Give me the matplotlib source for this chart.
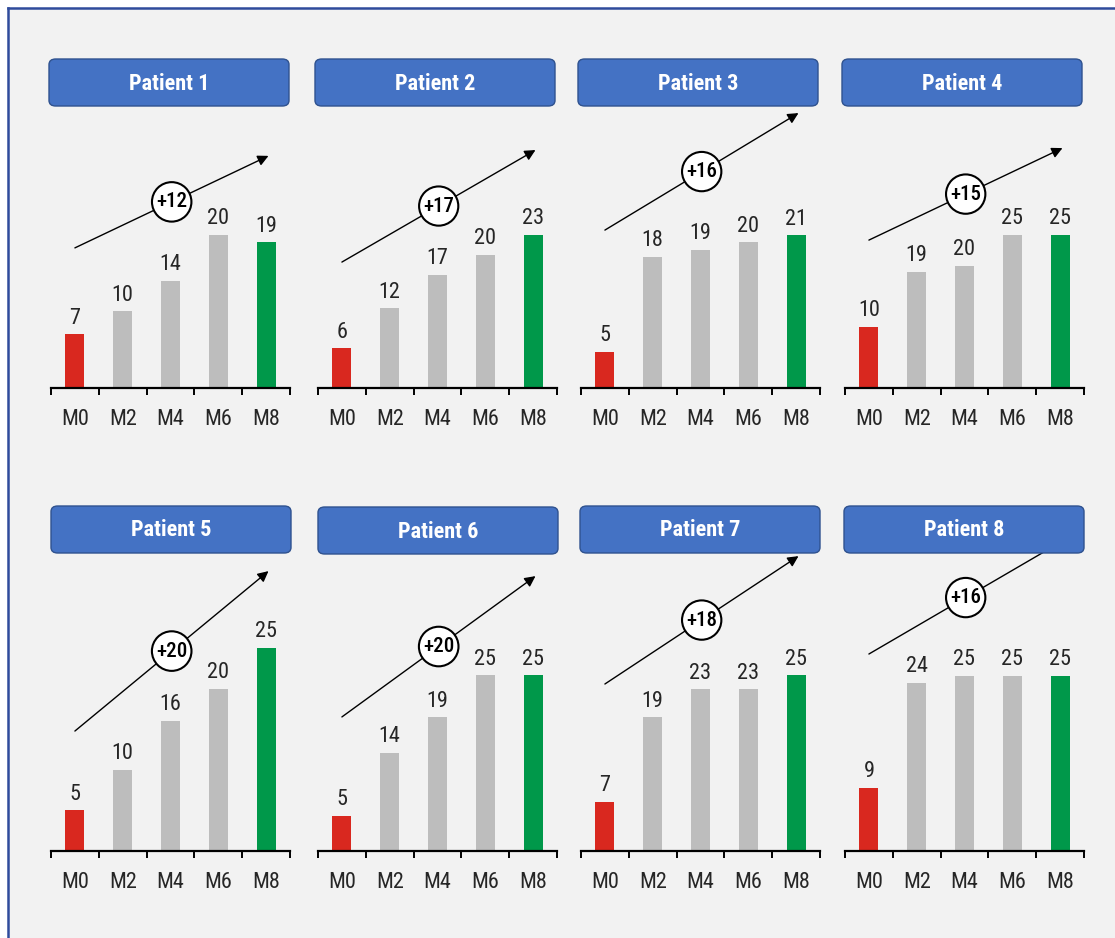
import matplotlib
matplotlib.use("Agg")
import matplotlib.pyplot as plt
from matplotlib.patches import FancyBboxPatch
from matplotlib.lines import Line2D

# ---- data -------------------------------------------------------------
months = ["M0", "M2", "M4", "M6", "M8"]
patients = ["Patient 1", "Patient 2", "Patient 3", "Patient 4",
            "Patient 5", "Patient 6", "Patient 7", "Patient 8"]
p1 = [7, 10, 14, 20, 19]
p2 = [6, 12, 17, 20, 23]
p3 = [5, 18, 19, 20, 21]
p4 = [10, 19, 20, 25, 25]
p5 = [5, 10, 16, 20, 25]
p6 = [5, 14, 19, 25, 25]
p7 = [7, 19, 23, 23, 25]
p8 = [9, 24, 25, 25, 25]
scores = [p1, p2, p3, p4, p5, p6, p7, p8]

# ---- layout / style ---------------------------------------------------
W, H = 1115, 938
FONT = ["Roboto Condensed", "Open Sans Condensed", "Noto Sans Condensed",
        "Liberation Sans Narrow", "Liberation Sans", "DejaVu Sans"]
plt.rcParams["font.family"] = FONT
plt.rcParams["font.stretch"] = "condensed"

RED, GREY, GREEN = "#D9281F", "#BDBDBD", "#00984A"
BLUE, BLUE_EDGE = "#4472C4", "#2F528F"
TXT = "#262626"

# axes frames in pixels: (left, baseline, height)
axes_px = [(51, 388, 278), (318, 388, 278), (581, 388, 278), (845, 388, 278),
           (51, 851, 294), (318, 851, 294), (581, 851, 294), (845, 851, 294)]
axes_w = 239
# header boxes in pixels: (left, top)
title_px = [(49, 59), (315, 59), (578, 59), (842, 59),
            (51, 506), (318, 507), (580, 506), (844, 506)]
title_w, title_h = 240, 47
# per-panel value-axis ceiling
y_top = [36.3, 41.8, 38.2, 45.4, 36.2, 41.8, 41.8, 42.0]
# trend arrow heights (axes fraction): start, end
arrow_y = [(0.504, 0.835), (0.453, 0.856), (0.568, 0.989), (0.532, 0.863),
           (0.408, 0.952), (0.456, 0.935), (0.568, 1.003), (0.670, 1.054)]
arrow_x = (0.0, 4.05)


def fx(px):
    return px / W


def fy(py):
    return 1 - py / H


fig = plt.figure(figsize=(W / 100, H / 100), dpi=100, facecolor="white")

# slide background with blue frame on top and left
bg = FancyBboxPatch((fx(8), 0), 1 - fx(8), fy(8), boxstyle="square,pad=0",
                    transform=fig.transFigure, fc="#F2F2F2", ec="none", zorder=-10)
fig.patches.append(bg)
fig.lines.append(Line2D([fx(8), fx(8)], [0, fy(8)], transform=fig.transFigure,
                        color="#2F4B9C", lw=1.8, zorder=-9))
fig.lines.append(Line2D([fx(8), 1], [fy(8), fy(8)], transform=fig.transFigure,
                        color="#2F4B9C", lw=1.8, zorder=-9))

x = list(range(len(months)))
colors = [RED, GREY, GREY, GREY, GREEN]

for i, vals in enumerate(scores):
    left, base, hgt = axes_px[i]
    ax = fig.add_axes([fx(left), fy(base), axes_w / W, hgt / H])
    ax.set_facecolor("none")
    bars = ax.bar(x, vals, width=0.4, color=colors, zorder=2)
    ax.set_xlim(-0.5, 4.5)
    ax.set_ylim(0, y_top[i])
    for s in ("top", "right", "left"):
        ax.spines[s].set_visible(False)
    ax.spines["bottom"].set_linewidth(1.6)
    ax.spines["bottom"].set_color("black")
    ax.set_yticks([])
    ax.set_xticks([k - 0.5 for k in range(len(months) + 1)])
    ax.set_xticklabels([])
    ax.tick_params(axis="x", which="major", direction="out", length=5,
                   width=1.4, color="black")
    ax.set_xticks(x, months, minor=True)
    ax.tick_params(axis="x", which="minor", length=0, pad=15,
                   labelsize=16, labelcolor=TXT)

    for b, v in zip(bars, vals):
        ax.annotate(str(v), (b.get_x() + b.get_width() / 2, v),
                    xytext=(0, 4), textcoords="offset points",
                    ha="center", va="bottom", fontsize=16, color=TXT)

    # trend arrow with overall gain in a circle
    (ys, ye) = arrow_y[i]
    coords = ("data", "axes fraction")
    ax.annotate("", xy=(arrow_x[1], ye), xycoords=coords,
                xytext=(arrow_x[0], ys), textcoords=coords,
                arrowprops=dict(arrowstyle="-|>", color="black", lw=1.0,
                                mutation_scale=16, shrinkA=0, shrinkB=0),
                annotation_clip=False, zorder=3)
    gain = vals[-1] - vals[0]
    ax.annotate(f"+{gain}", xy=((arrow_x[0] + arrow_x[1]) / 2, (ys + ye) / 2),
                xycoords=coords, ha="center", va="center", fontsize=15,
                fontweight="medium", color="black", annotation_clip=False, zorder=4,
                bbox=dict(boxstyle="circle,pad=0.2", fc="white", ec="black", lw=1.5))

    # header box
    tl, tt = title_px[i]
    box = FancyBboxPatch((fx(tl), fy(tt + title_h)), title_w / W, title_h / H,
                         boxstyle="round,pad=0,rounding_size=0.006",
                         transform=fig.transFigure, fc=BLUE, ec=BLUE_EDGE,
                         lw=1.0, zorder=5)
    fig.patches.append(box)
    fig.text(fx(tl + title_w / 2), fy(tt + title_h / 2 + 1), patients[i],
             ha="center", va="center", color="white", fontsize=16,
             fontweight="bold", zorder=6)

fig.savefig("out.png", dpi=100, facecolor=fig.get_facecolor())
